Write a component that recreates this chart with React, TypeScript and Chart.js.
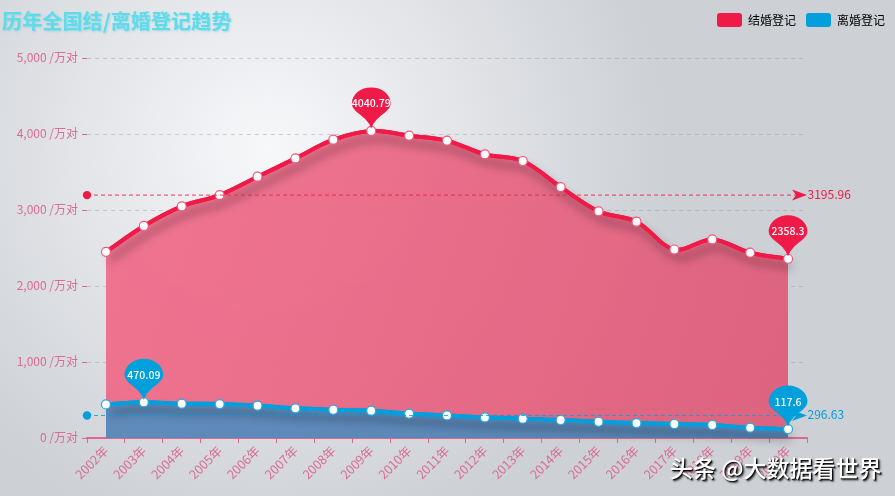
import React, { useEffect, useRef } from "react";
import { Chart, registerables } from "chart.js";

Chart.register(...registerables);

const chartTitle = "历年全国结/离婚登记趋势";
const watermark = "头条 @大数据看世界";
const years = ["2002年","2003年","2004年","2005年","2006年","2007年","2008年","2009年","2010年","2011年","2012年","2013年","2014年","2015年","2016年","2017年","2018年","2019年","2020年"];
const marriageValues = [2450,2790,3048,3197,3438,3679,3925,4040.79,3978,3912,3732,3645,3302,2982,2846,2480,2613,2438,2358.3];
const divorceValues = [442,470.09,451,447,425,390,372,359,320,297,271,254,237,214,197,184,171,136,117.6];
const marriageAverage = 3195.96;
const divorceAverage = 296.63;
const yTicksMax = 5000;
const yTickStep = 1000;

const RED = "#ef1a47";
const BLUE = "#019fdc";
const PINK = "#da6d92";
const FONT = '"Noto Sans CJK SC", "Noto Sans", sans-serif';

function drawPin(ctx: CanvasRenderingContext2D, x: number, tipY: number, color: string, text: string) {
  const r = 19.4;
  const cy = tipY - 25;
  ctx.save();
  ctx.translate(x, cy);
  ctx.fillStyle = color;
  ctx.beginPath();
  ctx.moveTo(0, 25);
  ctx.quadraticCurveTo(1.5, 20, 6, 15.5);
  ctx.bezierCurveTo(12, 10, r, 6, r, 0);
  ctx.ellipse(0, 0, r, 16, 0, 0, Math.PI, true);
  ctx.bezierCurveTo(-r, 6, -12, 10, -6, 15.5);
  ctx.quadraticCurveTo(-1.5, 20, 0, 25);
  ctx.closePath();
  ctx.fill();
  ctx.fillStyle = "#fff";
  ctx.font = `500 10.5px ${FONT}`;
  ctx.textAlign = "center";
  ctx.textBaseline = "middle";
  ctx.fillText(text, 0, 0);
  ctx.restore();
}

function drawMarkLine(chart: any, value: number, color: string) {
  const { ctx } = chart;
  const xs = chart.scales.x;
  const y = chart.scales.y.getPixelForValue(value);
  const x0 = xs.left;
  const x1 = xs.right;
  ctx.save();
  ctx.strokeStyle = color;
  ctx.fillStyle = color;
  ctx.lineWidth = 1;
  ctx.setLineDash([4, 3]);
  ctx.globalAlpha = 0.85;
  ctx.beginPath();
  ctx.moveTo(x0, y);
  ctx.lineTo(x1 - 8, y);
  ctx.stroke();
  ctx.globalAlpha = 1;
  ctx.setLineDash([]);
  ctx.beginPath();
  ctx.arc(x0, y, 4.2, 0, Math.PI * 2);
  ctx.fill();
  ctx.beginPath();
  ctx.moveTo(x1, y);
  ctx.lineTo(x1 - 15, y - 5.5);
  ctx.lineTo(x1 - 11, y);
  ctx.lineTo(x1 - 15, y + 5.5);
  ctx.closePath();
  ctx.fill();
  ctx.font = `12px ${FONT}`;
  ctx.textAlign = "left";
  ctx.textBaseline = "middle";
  ctx.fillText(String(value), x1 + 0.5, y - 1);
  ctx.restore();
}

function pinExtremes(chart: any, values: number[], color: string) {
  const xs = chart.scales.x;
  const ys = chart.scales.y;
  const hi = values.indexOf(Math.max(...values));
  const lo = values.indexOf(Math.min(...values));
  [hi, lo].forEach((i) => {
    drawPin(chart.ctx, xs.getPixelForValue(i), ys.getPixelForValue(values[i]) - 2.5, color, String(values[i]));
  });
}

const decorations = {
  id: "decorations",
  beforeDatasetDraw(chart: any, args: any) {
    // the shadow belongs to the curve only, not to its point markers
    const c = chart.ctx;
    c.save();
    c.shadowColor = "rgba(0,0,0,0.42)";
    c.shadowBlur = 10;
    c.shadowOffsetX = 4;
    c.shadowOffsetY = 8;
    args.meta.dataset.draw(c, chart.chartArea);
    c.restore();
  },
  afterDatasetsDraw(chart: any) {
    drawMarkLine(chart, marriageAverage, RED);
    drawMarkLine(chart, divorceAverage, BLUE);
    pinExtremes(chart, marriageValues, RED);
    pinExtremes(chart, divorceValues, BLUE);
  },
};

export default function App() {
  const ref = useRef<HTMLCanvasElement | null>(null);

  useEffect(() => {
    if (!ref.current) return;
    const g = ref.current.getContext("2d") as CanvasRenderingContext2D;
    const areaFill = g.createLinearGradient(100, 200, 790, 430);
    areaFill.addColorStop(0, "rgba(240,106,136,0.92)");
    areaFill.addColorStop(1, "rgba(222,90,120,0.92)");
    const chart = new Chart(ref.current, {
      type: "line",
      data: {
        labels: years,
        datasets: [
          {
            label: "结婚登记",
            data: marriageValues,
            order: 2,
            borderColor: RED,
            backgroundColor: areaFill,
            fill: "origin",
            borderWidth: 4,
            tension: 0.35,
            pointRadius: 4.5,
            pointBorderWidth: 1.2,
            pointBackgroundColor: "#fff",
            pointBorderColor: "#f0587a",
          },
          {
            label: "离婚登记",
            data: divorceValues,
            order: 1,
            borderColor: BLUE,
            backgroundColor: "rgba(0,157,219,0.6)",
            fill: "origin",
            borderWidth: 4,
            tension: 0.35,
            pointRadius: 4.5,
            pointBorderWidth: 1.2,
            pointBackgroundColor: "#fff",
            pointBorderColor: "#2aa9e0",
          },
        ],
      },
      options: {
        responsive: false,
        animation: false,
        devicePixelRatio: 1,
        layout: { padding: { top: 3 } },
        font: { family: FONT },
        plugins: {
          tooltip: { enabled: false },
          title: { display: false },
          legend: {
            position: "top",
            align: "end",
            labels: {
              boxWidth: 25,
              boxHeight: 14,
              padding: 10,
              color: "#444",
              font: { family: FONT, size: 12 },
              useBorderRadius: true,
              borderRadius: 3,
              generateLabels: () => [
                { text: "结婚登记", fillStyle: RED, strokeStyle: RED, lineWidth: 0, datasetIndex: 0, borderRadius: 3 },
                { text: "离婚登记", fillStyle: BLUE, strokeStyle: BLUE, lineWidth: 0, datasetIndex: 1, borderRadius: 3 },
              ],
            },
          },
        },
        scales: {
          x: {
            offset: true,
            position: "bottom",
            afterFit: (s: any) => { s.height = 58; },
            border: { color: "#dd6a8e", width: 2 },
            grid: { offset: true, drawOnChartArea: false, drawTicks: true, tickLength: 5, tickColor: "#dd6a8e", tickWidth: 1 },
            ticks: { color: PINK, font: { family: FONT, size: 12.5 }, minRotation: 45, maxRotation: 45, autoSkip: false, padding: 0 },
          },
          y: {
            min: 0,
            max: yTicksMax,
            position: "left",
            afterFit: (s: any) => { s.width = 87; },
            border: { display: false, dash: [4, 4] },
            grid: { color: "rgba(150,150,150,0.42)", tickColor: "#dd6a8e", tickLength: 5, tickBorderDash: [], lineWidth: 1 },
            ticks: {
              stepSize: yTickStep,
              color: PINK,
              padding: 4,
              labelOffset: -1,
              font: { family: FONT, size: 12 },
              callback: (v: any) => `${Number(v).toLocaleString("en-US")} /万对`,
            },
          },
          yRight: {
            axis: "y",
            position: "right",
            min: 0,
            max: 1,
            afterFit: (s: any) => { s.width = 88; },
            border: { display: false },
            grid: { display: false },
            ticks: { display: false },
          },
          xTop: {
            axis: "x",
            position: "top",
            afterFit: (s: any) => { s.height = 21; },
            border: { display: false },
            grid: { display: false },
            ticks: { display: false },
          },
        },
      },
      plugins: [decorations],
    } as any);
    return () => chart.destroy();
  }, []);

  return (
    <div
      style={{
        position: "absolute",
        left: 0,
        top: 0,
        width: 895,
        height: 496,
        overflow: "hidden",
        background: "radial-gradient(circle 397px at 268px 149px, #f7f8fa, #cdd0d5)",
      }}
    >
      <canvas ref={ref} width={895} height={496} style={{ display: "block", width: 895, height: 496 }} />
      <div
        style={{
          position: "absolute",
          left: 2,
          top: 8,
          font: `bold 20px/26px ${FONT}`,
          letterSpacing: "0.15px",
          color: "#5fdbe9",
          textShadow: "1px 1px 2px rgba(90,200,220,0.5)",
          whiteSpace: "nowrap",
        }}
      >
        {chartTitle}
      </div>
      <div
        style={{
          position: "absolute",
          left: 670,
          top: 452,
          font: `500 23px/30px ${FONT}`,
          color: "#fff",
          textShadow: "1px 1px 1px #000, 2px 2px 2px rgba(0,0,0,0.7)",
          whiteSpace: "nowrap",
        }}
      >
        {watermark}
      </div>
    </div>
  );
}
